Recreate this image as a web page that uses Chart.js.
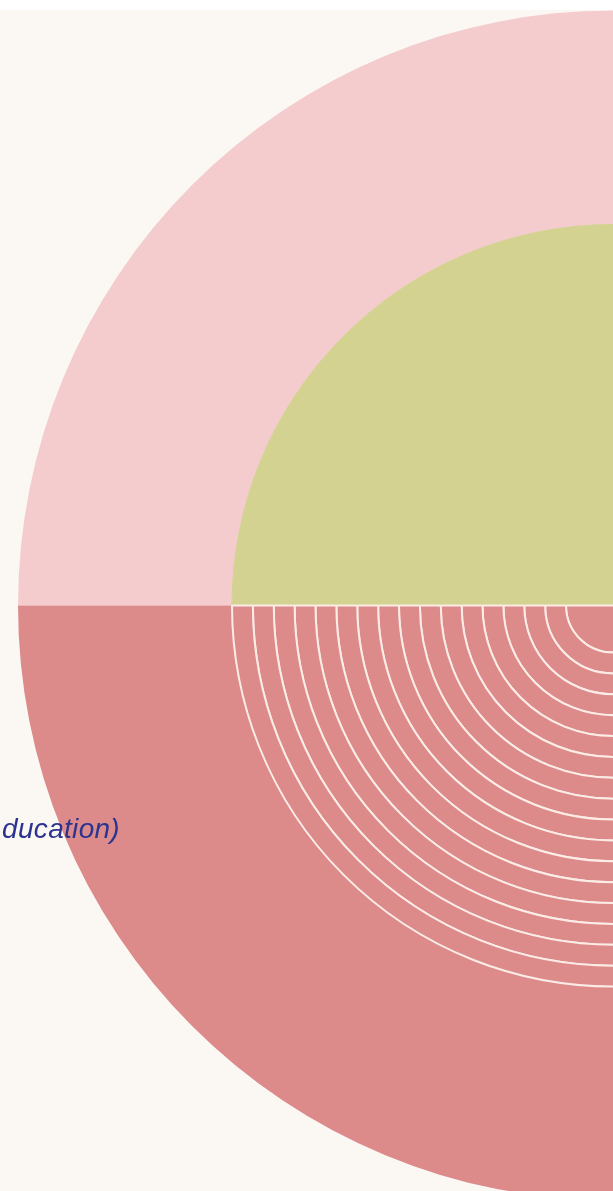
<!DOCTYPE html>
<html>
<head>
<meta charset="utf-8">
<script src="https://cdn.jsdelivr.net/npm/chart.js@4/dist/chart.umd.min.js"></script>
<style>
  html, body { margin: 0; padding: 0; background: #ffffff; width: 613px; height: 1191px; overflow: hidden; }
  #stage { position: absolute; left: 0; top: 10px; width: 613px; height: 1181px; background: #fbf8f3; overflow: hidden; }
  #c { position: absolute; left: 0; top: 0; }
  #lab { position: absolute; right: 493px; top: 805px; white-space: nowrap; font: italic 28px/28px "Liberation Sans", Arial, sans-serif; letter-spacing: 0.3px; color: #2b348f; z-index: 2; }
</style>
</head>
<body>
<div id="stage">
  <canvas id="c" width="1226" height="1191" style="width:1226px;height:1191px"></canvas>
  <div id="lab">ducation)</div>
</div>
<script>
// ---- data ----
const halves = ['Upper half', 'Lower half'];
const halfShares = [50, 50];
// ring thickness weights (outer band, 16 stripes, core)
const outerBandWeight = 214;
const stripeWeights = [20.875, 20.875, 20.875, 20.875, 20.875, 20.875, 20.875, 20.875,
                       20.875, 20.875, 20.875, 20.875, 20.875, 20.875, 20.875, 20.875];
const coreWeight = 47;

// ---- styles ----
const lightPink = '#f4cccd';
const darkPink = '#dd8a8b';
const green = '#d3d291';
const lineColor = '#fbece6';

const datasets = [];
datasets.push({
  data: halfShares,
  backgroundColor: [lightPink, darkPink],
  borderWidth: 0,
  weight: outerBandWeight,
  order: 1
});
stripeWeights.forEach(w => {
  datasets.push({
    data: halfShares,
    backgroundColor: [green, darkPink],
    borderColor: [green, lineColor],
    borderWidth: [1, 2],
    weight: w,
    order: 0
  });
});
datasets.push({
  data: halfShares,
  backgroundColor: [green, darkPink],
  borderColor: [green, lineColor],
  borderWidth: [1, 2],
  weight: coreWeight,
  order: 0
});

new Chart(document.getElementById('c'), {
  type: 'doughnut',
  data: { labels: halves, datasets: datasets },
  options: {
    responsive: false,
    animation: false,
    events: [],
    rotation: -90,
    cutout: 0,
    radius: 595,
    layout: { padding: 0 },
    plugins: { legend: { display: false }, tooltip: { enabled: false } }
  }
});
</script>
</body>
</html>
